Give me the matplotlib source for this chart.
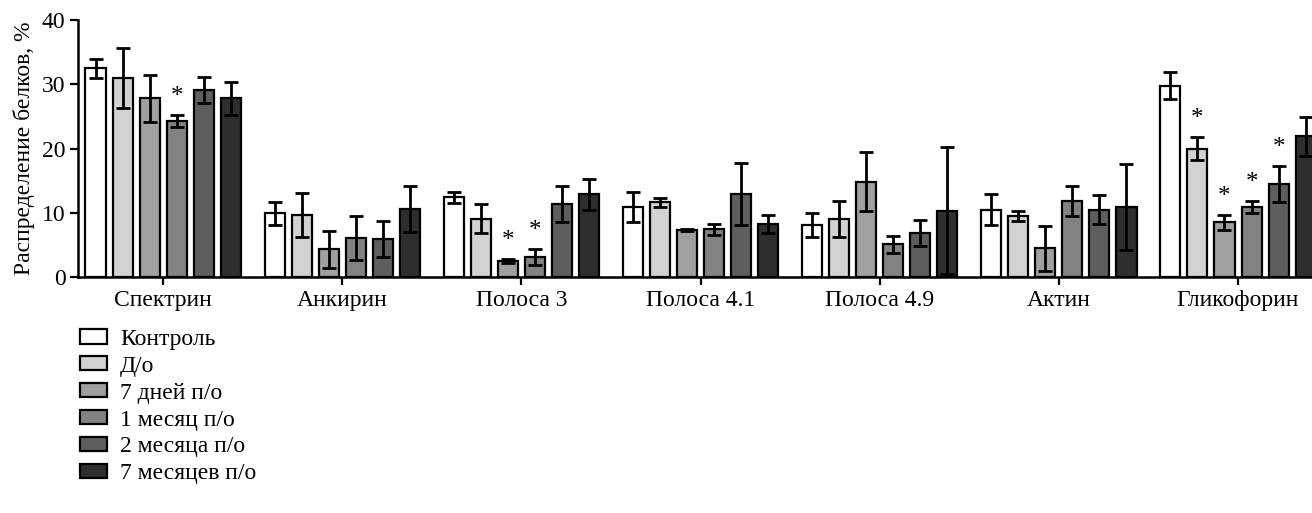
import numpy as np
import matplotlib.pyplot as plt

plt.rcParams['font.family'] = ['Liberation Serif', 'DejaVu Serif']

proteins = ["Спектрин", "Анкирин", "Полоса 3", "Полоса 4.1", "Полоса 4.9", "Актин", "Гликофорин"]
groups = ["Контроль", "Д/о", "7 дней п/о", "1 месяц п/о", "2 месяца п/о", "7 месяцев п/о"]
colors = ["#ffffff", "#d2d2d2", "#a0a0a0", "#828282", "#5e5e5e", "#2e2e2e"]

# mean values, one list per group (order of proteins)
control   = [32.5, 9.9, 12.4, 10.9, 8.1, 10.5, 29.8]
do        = [31.0, 9.6, 9.1, 11.6, 9.1, 9.5, 20.0]
days7     = [27.8, 4.3, 2.5, 7.3, 14.8, 4.5, 8.5]
month1    = [24.3, 6.1, 3.1, 7.4, 5.1, 11.8, 10.9]
month2    = [29.1, 5.9, 11.4, 12.9, 6.8, 10.5, 14.5]
month7    = [27.8, 10.6, 12.9, 8.3, 10.3, 10.9, 21.9]

# error values
control_err = [1.5, 1.8, 0.9, 2.3, 1.9, 2.4, 2.1]
do_err      = [4.7, 3.4, 2.3, 0.7, 2.8, 0.8, 1.8]
days7_err   = [3.7, 2.9, 0.3, 0.1, 4.6, 3.5, 1.2]
month1_err  = [0.9, 3.4, 1.2, 0.8, 1.3, 2.3, 1.0]
month2_err  = [2.0, 2.8, 2.8, 4.8, 2.0, 2.3, 2.8]
month7_err  = [2.6, 3.6, 2.4, 1.4, 9.9, 6.7, 3.0]

# significance marks: (group index, protein index)
stars = [(3, 0), (2, 2), (3, 2), (1, 6), (2, 6), (3, 6), (4, 6)]

values = [control, do, days7, month1, month2, month7]
errors = [control_err, do_err, days7_err, month1_err, month2_err, month7_err]

fig = plt.figure(figsize=(13.12, 5.13), dpi=100)
ax = fig.add_axes([0.0595, 0.46, 0.9405, 0.501])

x = np.arange(len(proteins))
pitch = 0.151
width = 0.112
for i, (vals, errs) in enumerate(zip(values, errors)):
    pos = x + (i - 2.5) * pitch
    ax.bar(pos, vals, width, color=colors[i], edgecolor="black", linewidth=1.6,
           label=groups[i], zorder=2)
    ax.errorbar(pos, vals, yerr=errs, fmt="none", ecolor="black", elinewidth=2,
                capsize=5, capthick=2, zorder=3)

for g, p in stars:
    top = values[g][p] + errors[g][p]
    ax.text(x[p] + (g - 2.5) * pitch, top + 2.8, "*", ha="center", va="center",
            fontsize=18)

ax.set_xlim(-0.475, 6.413)
ax.set_ylim(0, 40)
ax.set_yticks([0, 10, 20, 30, 40])
ax.set_xticks(x)
ax.set_xticklabels(proteins)
ax.tick_params(axis="both", labelsize=17, width=1.6, length=6, pad=3)
ax.tick_params(axis="y", pad=3)
ax.set_ylabel("Распределение белков, %", fontsize=17, labelpad=5)
ax.spines["top"].set_visible(False)
ax.spines["right"].set_visible(False)
ax.spines["left"].set_linewidth(1.8)
ax.spines["bottom"].set_linewidth(1.8)

fig.legend(loc="upper left", bbox_to_anchor=(0.061, 0.359), frameon=False,
           fontsize=17, handlelength=1.15, handleheight=0.55, handletextpad=0.55,
           labelspacing=0.25, borderpad=0, borderaxespad=0)

fig.savefig("out.png", dpi=100)
